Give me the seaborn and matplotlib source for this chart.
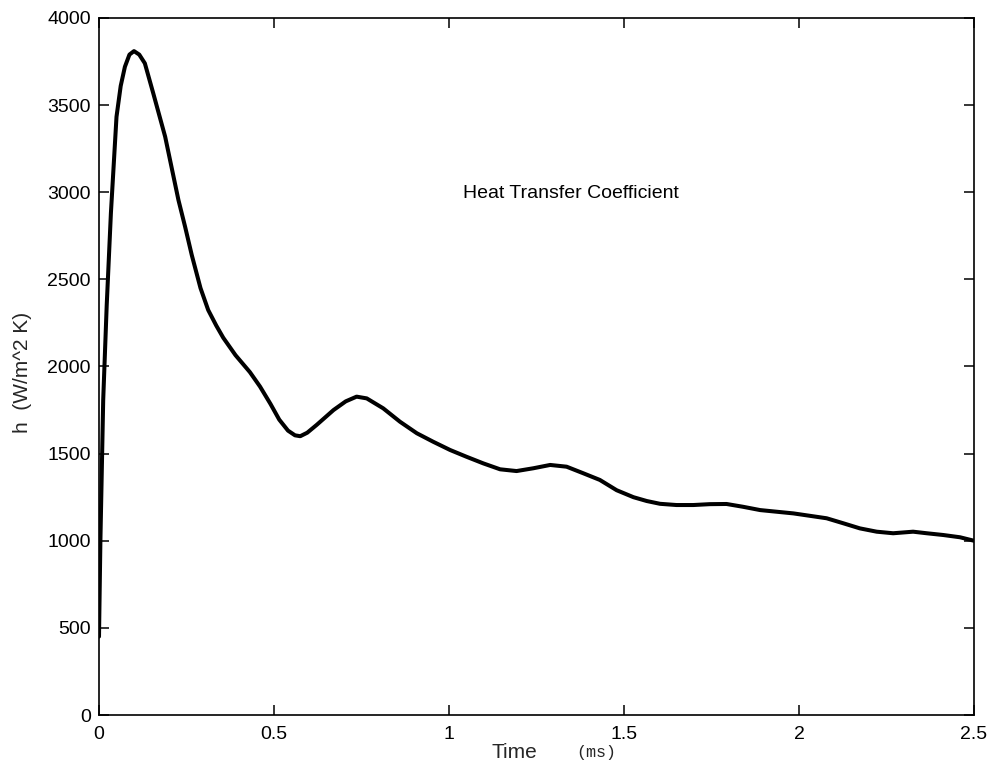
import matplotlib
matplotlib.use("Agg")
import matplotlib.pyplot as plt
import seaborn as sns
import pandas as pd

# Data
time_ms = [0.0, 0.004, 0.012, 0.022, 0.034, 0.05, 0.062, 0.074, 0.087, 0.1,
           0.115, 0.131, 0.155, 0.189, 0.227, 0.246, 0.265, 0.29, 0.312, 0.335,
           0.355, 0.39, 0.431, 0.46, 0.49, 0.515, 0.54, 0.56, 0.575, 0.595,
           0.622, 0.67, 0.705, 0.736, 0.765, 0.812, 0.86, 0.908, 0.955, 1.003,
           1.05, 1.098, 1.146, 1.193, 1.241, 1.289, 1.336, 1.384, 1.431, 1.479,
           1.527, 1.565, 1.603, 1.65, 1.698, 1.745, 1.793, 1.84, 1.889, 1.984,
           2.079, 2.127, 2.174, 2.222, 2.269, 2.326, 2.365, 2.412, 2.46, 2.5]
h_coef = [450, 1000, 1808, 2350, 2880, 3433, 3610, 3720, 3790, 3810,
          3790, 3740, 3568, 3319, 2955, 2802, 2640, 2450, 2324, 2235,
          2165, 2065, 1968, 1885, 1785, 1695, 1632, 1605, 1600, 1620,
          1665, 1750, 1800, 1827, 1817, 1760, 1683, 1617, 1568, 1521,
          1482, 1444, 1410, 1400, 1416, 1435, 1425, 1387, 1349, 1290,
          1250, 1228, 1212, 1205, 1205, 1210, 1211, 1195, 1176, 1157,
          1129, 1100, 1071, 1052, 1043, 1052, 1043, 1033, 1020, 1000]
x_ticks = [0, 0.5, 1, 1.5, 2, 2.5]
x_tick_labels = ["0", "0.5", "1", "1.5", "2", "2.5"]
y_ticks = [0, 500, 1000, 1500, 2000, 2500, 3000, 3500, 4000]
annotation = "Heat Transfer Coefficient"

df = pd.DataFrame({"t": time_ms, "h": h_coef})

sns.set_style("ticks")
plt.rcParams["font.family"] = ["Liberation Sans", "DejaVu Sans"]

fig = plt.figure(figsize=(9.93, 7.72), dpi=100)
ax = fig.add_axes([99 / 993, 1 - 715 / 772, 875 / 993, 697 / 772])

sns.lineplot(data=df, x="t", y="h", ax=ax, color="black", linewidth=2.9,
             sort=False, estimator=None)

ax.set_xlim(0, 2.5)
ax.set_ylim(0, 4000)
ax.set_xticks(x_ticks)
ax.set_xticklabels(x_tick_labels)
ax.set_yticks(y_ticks)
ax.set_yticklabels([str(v) for v in y_ticks])
ax.tick_params(direction="in", top=True, right=True, length=7, width=1.1,
               labelsize=14, colors="black")
ax.tick_params(axis="x", pad=8)
ax.tick_params(axis="y", pad=6)
for s in ax.spines.values():
    s.set_visible(True)
    s.set_linewidth(1.2)
    s.set_color("black")
ax.set_xlabel("")
ax.set_ylabel("")

ax.text(1.04, 2967, annotation, fontsize=14, ha="left", va="baseline",
        color="black")

fig.text(23 / 993, 1 - 372 / 772, "h  (W/m^2 K)", rotation=90, fontsize=15,
         ha="center", va="center")
fig.text(514 / 993, 1 - 752 / 772, "Time", fontsize=15, ha="center",
         va="center")
fig.text(596 / 993, 1 - 752 / 772, "(ms)", fontsize=12, ha="center",
         va="center", family=["Liberation Mono", "DejaVu Sans Mono"])

fig.savefig("out.png", dpi=100, facecolor="white")
